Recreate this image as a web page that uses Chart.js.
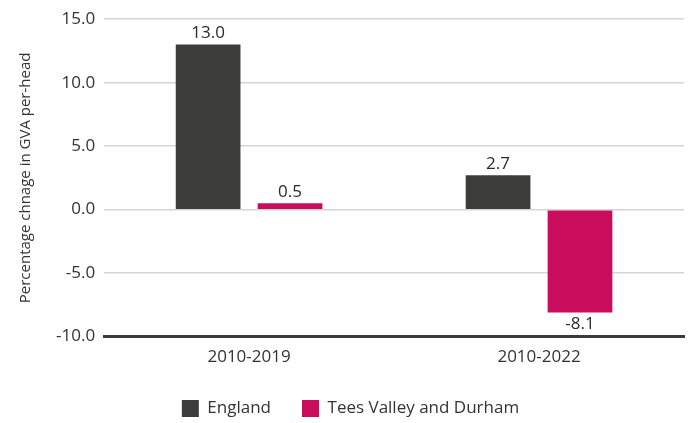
<!DOCTYPE html>
<html>
<head>
<meta charset="utf-8">
<script src="https://cdn.jsdelivr.net/npm/chart.js@4"></script>
<style>
    html, body { margin: 0; padding: 0; background: #ffffff; }
    #wrap { width: 693px; height: 423px; position: relative; }
</style>
</head>
<body>
<div id="wrap"><canvas id="gvaChart"></canvas></div>
<script>
const periods = ['2010-2019', '2010-2022'];
const englandValues = [13.0, 2.7];
const teesValues = [0.5, -8.1];
const seriesNames = ['England', 'Tees Valley and Durham'];

const fontFamily = '"Open Sans", "Liberation Sans", sans-serif';
const textColor = '#333333';

// draws the value above (or below, for negatives) each bar
const barValueLabels = {
    id: 'barValueLabels',
    afterDatasetsDraw(chart) {
        const ctx = chart.ctx;
        ctx.save();
        ctx.font = '17px ' + fontFamily;
        ctx.fillStyle = '#2a2a2a';
        ctx.textAlign = 'center';
        chart.data.datasets.forEach((ds, i) => {
            const meta = chart.getDatasetMeta(i);
            meta.data.forEach((bar, j) => {
                const val = ds.data[j];
                if (val >= 0) {
                    ctx.textBaseline = 'bottom';
                    ctx.fillText(val.toFixed(1), bar.x, bar.y - 3);
                } else {
                    ctx.textBaseline = 'top';
                    ctx.fillText(val.toFixed(1), bar.x, bar.y + 3);
                }
            });
        });
        ctx.restore();
    }
};

// trims the empty space under the legend row
const legendTrim = {
    id: 'legendTrim',
    afterInit(chart) {
        const legend = chart.legend;
        if (!legend) return;
        const fit = legend.fit;
        legend.fit = function () {
            fit.call(this);
            this.height -= 4;
        };
    }
};

new Chart(document.getElementById('gvaChart').getContext('2d'), {
    type: 'bar',
    data: {
        labels: periods,
        datasets: [{
            label: seriesNames[0],
            data: englandValues,
            backgroundColor: '#3c3c3b',
            categoryPercentage: 0.565,
            barPercentage: 0.79
        }, {
            label: seriesNames[1],
            data: teesValues,
            backgroundColor: '#c90c5c',
            categoryPercentage: 0.565,
            barPercentage: 0.79
        }]
    },
    options: {
        responsive: true,
        maintainAspectRatio: false,
        animation: false,
        layout: { padding: { top: 14, right: 9, left: 17, bottom: 0 } },
        plugins: {
            legend: {
                position: 'bottom',
                labels: {
                    boxWidth: 17,
                    boxHeight: 17,
                    padding: 31,
                    color: textColor,
                    font: { family: fontFamily, size: 17, lineHeight: 1 }
                }
            },
            tooltip: { enabled: false }
        },
        scales: {
            x: {
                grid: { display: false },
                border: { display: true, color: '#3c3c3b', width: 3 },
                ticks: {
                    color: textColor,
                    padding: 2,
                    font: { family: fontFamily, size: 17 }
                }
            },
            y: {
                min: -10,
                max: 15,
                ticks: {
                    stepSize: 5,
                    color: textColor,
                    padding: 9,
                    font: { family: fontFamily, size: 17 },
                    callback: v => v.toFixed(1)
                },
                grid: { color: '#d4d4d4', lineWidth: 1.5, drawTicks: false },
                border: { display: false },
                title: {
                    display: true,
                    text: 'Percentage chnage in GVA per-head',
                    color: textColor,
                    padding: { top: 0, bottom: 12 },
                    font: { family: fontFamily, size: 15 }
                }
            }
        }
    },
    plugins: [barValueLabels, legendTrim]
});
</script>
</body>
</html>
